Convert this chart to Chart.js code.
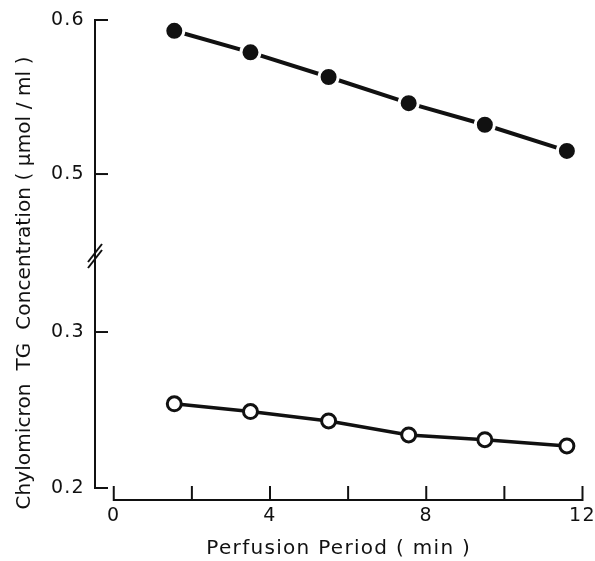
<!DOCTYPE html>
<html>
<head>
<meta charset="utf-8">
<script src="https://cdn.jsdelivr.net/npm/chart.js@4"></script>
<style>
  html, body { margin: 0; padding: 0; background: #fff; }
  #wrap { width: 595px; height: 561px; }
</style>
</head>
<body>
<div id="wrap"><canvas id="myChart" width="595" height="561"></canvas></div>
<script>
// values
const periods = [1.55, 3.5, 5.5, 7.55, 9.5, 11.6];
const filledValues = [0.593, 0.579, 0.563, 0.546, 0.532, 0.515];
const openValues = [0.254, 0.249, 0.243, 0.234, 0.231, 0.227];
const xTicks = [0, 2, 4, 6, 8, 10, 12];
const xLabels = [0, 4, 8, 12];
const upperTicks = [0.5, 0.6];
const lowerTicks = [0.2, 0.3];

const FONT = 'DejaVu Sans';
const INK = '#111';

// the old lettering is widely spaced
const spacingPlugin = {
    id: 'spacing',
    beforeDraw(chart) { chart.ctx.letterSpacing = '1.3px'; }
};

// axis lines, inward tick marks, the axis break and the y title
const axesPlugin = {
    id: 'axesDraw',
    afterDraw(chart) {
        const ctx = chart.ctx;
        const xs = chart.scales.x, yT = chart.scales.yTop, yB = chart.scales.yBot;
        const left = chart.chartArea.left;
        ctx.save();
        ctx.strokeStyle = INK;
        ctx.lineWidth = 2;
        ctx.lineCap = 'butt';

        // y axis
        ctx.beginPath();
        ctx.moveTo(left, yT.getPixelForValue(upperTicks[1]) - 1);
        ctx.lineTo(left, yB.getPixelForValue(lowerTicks[0]) + 1);
        ctx.stroke();
        upperTicks.forEach(v => {
            const y = yT.getPixelForValue(v);
            ctx.beginPath(); ctx.moveTo(left, y); ctx.lineTo(left + 13, y); ctx.stroke();
        });
        lowerTicks.forEach(v => {
            const y = yB.getPixelForValue(v);
            ctx.beginPath(); ctx.moveTo(left, y); ctx.lineTo(left + 13, y); ctx.stroke();
        });

        // break marks between the two stacked y scales
        const by = yT.bottom - 6;
        [-3, 3].forEach(dy => {
            ctx.beginPath();
            ctx.moveTo(left - 7, by + dy + 9);
            ctx.lineTo(left + 7, by + dy - 9);
            ctx.stroke();
        });

        // x axis, sits a little below the y axis
        const ay = chart.chartArea.bottom + 12;
        ctx.beginPath();
        ctx.moveTo(xs.getPixelForValue(0), ay);
        ctx.lineTo(xs.getPixelForValue(12), ay);
        ctx.stroke();
        xTicks.forEach(v => {
            const x = xs.getPixelForValue(v);
            ctx.beginPath(); ctx.moveTo(x, ay + 1); ctx.lineTo(x, ay - 14); ctx.stroke();
        });

        // y title spans both stacked axes
        ctx.fillStyle = INK;
        ctx.font = '20px "' + FONT + '"';
        ctx.letterSpacing = '0.1px';
        ctx.textAlign = 'center';
        ctx.textBaseline = 'middle';
        ctx.translate(25, 283);
        ctx.rotate(-Math.PI / 2);
        ctx.fillText('Chylomicron  TG  Concentration ( \u00b5mol / ml )', 0, 0);
        ctx.restore();
    }
};

const ctx = document.getElementById('myChart').getContext('2d');
const myChart = new Chart(ctx, {
    type: 'line',
    data: {
        datasets: [{
            label: 'filled',
            data: periods.map((x, i) => ({ x: x, y: filledValues[i] })),
            yAxisID: 'yTop',
            borderColor: INK,
            borderWidth: 4,
            pointRadius: 9.5,
            pointBackgroundColor: INK,
            pointBorderColor: '#fff',
            pointBorderWidth: 3,
            tension: 0,
            clip: false
        }, {
            label: 'open',
            data: periods.map((x, i) => ({ x: x, y: openValues[i] })),
            yAxisID: 'yBot',
            borderColor: INK,
            borderWidth: 3.5,
            pointRadius: 7,
            pointBackgroundColor: '#fff',
            pointBorderColor: INK,
            pointBorderWidth: 3,
            tension: 0,
            clip: false
        }]
    },
    options: {
        responsive: false,
        animation: false,
        layout: { padding: { left: 0, right: 6, top: 20, bottom: 0 } },
        plugins: { legend: { display: false }, tooltip: { enabled: false } },
        scales: {
            x: {
                type: 'linear',
                min: -0.48,
                max: 12,
                afterBuildTicks: s => { s.ticks = xTicks.map(v => ({ value: v })); },
                afterFit: s => { s.height = 73; s.paddingLeft = 0; s.paddingRight = 0; },
                grid: { display: false },
                border: { display: false },
                ticks: {
                    autoSkip: false,
                    maxRotation: 0,
                    padding: 9,
                    color: INK,
                    font: { family: FONT, size: 19 },
                    callback: v => xLabels.includes(v) ? String(v) : ''
                },
                title: {
                    display: true,
                    text: 'Perfusion Period ( min )',
                    color: INK,
                    font: { family: FONT, size: 20 },
                    padding: { top: 0, bottom: 0 }
                }
            },
            yBot: {
                type: 'linear',
                position: 'left',
                stack: 'conc',
                stackWeight: 226,
                min: 0.2,
                max: 0.3449,
                afterBuildTicks: s => { s.ticks = lowerTicks.map(v => ({ value: v })); },
                afterFit: s => { s.width = 95; },
                grid: { display: false },
                border: { display: false },
                ticks: { padding: 2, color: INK, font: { family: FONT, size: 19 }, callback: v => v.toFixed(1) }
            },
            yTop: {
                type: 'linear',
                position: 'left',
                stack: 'conc',
                stackWeight: 242,
                min: 0.4429,
                max: 0.6,
                afterBuildTicks: s => { s.ticks = upperTicks.map(v => ({ value: v })); },
                afterFit: s => { s.width = 95; },
                grid: { display: false },
                border: { display: false },
                ticks: { padding: 2, color: INK, font: { family: FONT, size: 19 }, callback: v => v.toFixed(1) }
            }
        }
    },
    plugins: [spacingPlugin, axesPlugin]
});
</script>
</body>
</html>
